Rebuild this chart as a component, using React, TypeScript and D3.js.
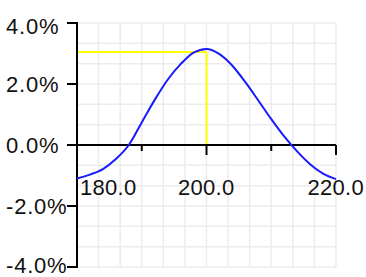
import React from "react";
import * as d3 from "d3";

const xValues = [180, 182, 184, 186, 188, 190, 192, 194, 196, 198, 200, 202, 204, 206, 208, 210, 212, 214, 216, 218, 220];
const yValues = [-1.1, -0.97, -0.79, -0.46, 0.0, 0.74, 1.48, 2.14, 2.65, 3.03, 3.15, 2.98, 2.6, 2.06, 1.46, 0.85, 0.28, -0.21, -0.63, -0.94, -1.12];
const xTickLabels = [180, 200, 220];
const xMinorTicks = [190, 210];
const yTickLabels = [4, 2, 0, -2, -4];
const markerX = 200;
const markerY = 3.05;

const W = 366;
const H = 277;

export default function App() {
  const x = d3.scaleLinear().domain([180, 220]).range([77, 336]);
  const y = d3.scaleLinear().domain([-4, 4]).range([267, 23]);
  const gridX = d3.range(13).map((i) => 180 + (i * 40) / 12);
  const gridY = d3.range(13).map((i) => -4 + (i * 8) / 12);
  const pts = xValues.map((v, i) => [v, yValues[i]] as [number, number]);
  const line = d3
    .line<[number, number]>()
    .x((d) => x(d[0]))
    .y((d) => y(d[1]))
    .curve(d3.curveMonotoneX);
  const font = "'Liberation Sans', Arial, sans-serif";
  return (
    <svg
      width={W}
      height={H}
      style={{ position: "absolute", left: 0, top: 0, background: "#fff" }}
    >
      <g stroke="#ececec" strokeWidth={1.5}>
        {gridX.map((g, i) => (
          <line key={"gx" + i} x1={x(g)} x2={x(g)} y1={y(4)} y2={y(-4)} />
        ))}
        {gridY.map((g, i) => (
          <line key={"gy" + i} x1={x(180)} x2={x(220)} y1={y(g)} y2={y(g)} />
        ))}
      </g>
      <g stroke="#ffff00" strokeWidth={2} fill="none">
        <line x1={x(180)} x2={x(markerX)} y1={y(markerY)} y2={y(markerY)} />
        <line x1={x(markerX)} x2={x(markerX)} y1={y(markerY)} y2={y(0)} />
      </g>
      <g stroke="#000" strokeWidth={2}>
        <line x1={x(180)} x2={x(180)} y1={y(4) - 1} y2={y(-4) + 1} />
        <line x1={x(180) - 10} x2={x(220)} y1={y(0)} y2={y(0)} />
        {yTickLabels.map((t) => (
          <line key={"yt" + t} x1={x(180) - 10} x2={x(180)} y1={y(t)} y2={y(t)} />
        ))}
        {xTickLabels.map((t) => (
          <line key={"xt" + t} x1={x(t)} x2={x(t)} y1={y(0)} y2={y(0) + 10} />
        ))}
        {xMinorTicks.map((t) => (
          <line key={"xm" + t} x1={x(t)} x2={x(t)} y1={y(0)} y2={y(0) + 6} />
        ))}
      </g>
      <path d={line(pts) || ""} fill="none" stroke="#1a1aff" strokeWidth={2} />
      <g fontFamily={font} fontSize={22} fill="#111">
        {yTickLabels.map((t) => {
          const cy = Math.min(Math.max(y(t), 26), 265);
          return (
            <text key={"yl" + t} x={6} y={cy + 8} letterSpacing={0.8}>
              {t.toFixed(1) + "%"}
            </text>
          );
        })}
        {xTickLabels.map((t) => {
          const w = 57;
          const left = Math.max(x(t) - w / 2, x(180) + 3);
          return (
            <text key={"xl" + t} x={left} y={195} letterSpacing={0.3}>
              {t.toFixed(1)}
            </text>
          );
        })}
      </g>
    </svg>
  );
}
